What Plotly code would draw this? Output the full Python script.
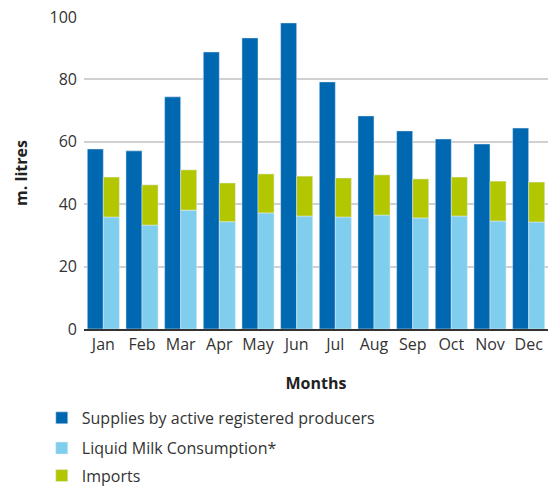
import plotly.graph_objects as go

months = ["Jan", "Feb", "Mar", "Apr", "May", "Jun", "Jul", "Aug", "Sep", "Oct", "Nov", "Dec"]
supplies = [57.7, 57.1, 74.4, 88.8, 93.3, 98.1, 79.2, 68.3, 63.5, 60.9, 59.3, 64.4]
liquid_milk = [35.9, 33.3, 38.1, 34.4, 37.2, 36.2, 35.9, 36.5, 35.6, 36.2, 34.6, 34.3]
imports = [12.8, 12.9, 12.9, 12.4, 12.5, 12.8, 12.5, 12.9, 12.5, 12.5, 12.8, 12.8]

DARK = "#0068b0"
LIGHT = "#80ceee"
LIME = "#b3c700"
FONT = "Open Sans"

fig = go.Figure()
fig.add_trace(go.Bar(
    x=months, y=supplies, name="Supplies by active registered producers",
    marker_color=DARK, offsetgroup="supply", legend="legend",
))
fig.add_trace(go.Bar(
    x=months, y=liquid_milk, name="Liquid Milk Consumption*",
    marker_color=LIGHT, offsetgroup="demand", legend="legend2",
))
fig.add_trace(go.Bar(
    x=months, y=imports, base=liquid_milk, name="Imports",
    marker_color=LIME, offsetgroup="demand", legend="legend3",
))

# one legend box per series, stacked below the x-axis title
legend_style = dict(
    orientation="v", x=-0.091, xanchor="left", yanchor="middle",
    font=dict(family=FONT, size=16, color="#333333"),
    bgcolor="rgba(0,0,0,0)",
)

fig.update_layout(
    width=549, height=489,
    margin=dict(l=84, r=1, t=17, b=160, autoexpand=False),
    barmode="group", bargap=0.17, bargroupgap=0,
    plot_bgcolor="white", paper_bgcolor="white",
    font=dict(family=FONT, size=16, color="#333333"),
    showlegend=True,
    legend=dict(y=-0.285, **legend_style),
    legend2=dict(y=-0.382, **legend_style),
    legend3=dict(y=-0.47, **legend_style),
)
fig.update_xaxes(
    title=dict(text="<b>Months</b>", font=dict(size=16, color="#222222"), standoff=24),
    showline=True, linecolor="#333333", linewidth=2,
    ticks="", tickfont=dict(size=16, color="#333333"),
)
fig.update_yaxes(
    title=dict(text="<b>m. litres</b>", font=dict(size=16, color="#222222"), standoff=17),
    range=[0, 100], tickvals=[0, 20, 40, 60, 80, 100],
    showgrid=True, gridcolor="#d0d0d0", gridwidth=1.5,
    zeroline=False, ticks="", ticklabelstandoff=6,
    tickfont=dict(size=16, color="#333333"),
)

fig.write_html("out.html")
